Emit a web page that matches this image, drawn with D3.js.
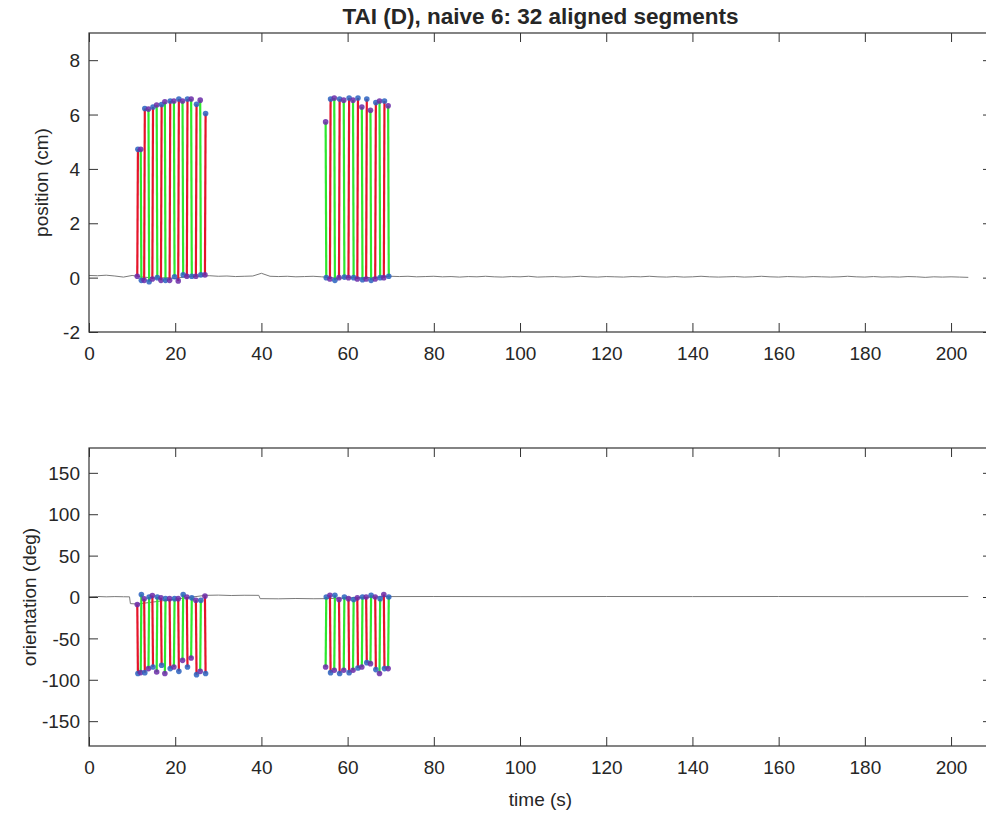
<!DOCTYPE html>
<html>
<head>
<meta charset="utf-8">
<script src="https://cdn.jsdelivr.net/npm/d3@7"></script>
<style>
  html, body { margin: 0; padding: 0; background: #fff; }
  svg { display: block; }
  text { font-family: "Liberation Sans", Arial, Helvetica, sans-serif; fill: #262626; }
</style>
</head>
<body>
<svg id="chart" width="986" height="817"></svg>
<script>
// ---------------- DATA ----------------
const titleText = "TAI (D), naive 6: 32 aligned segments";
const xTicks = [0, 20, 40, 60, 80, 100, 120, 140, 160, 180, 200];
const posTicks = [-2, 0, 2, 4, 6, 8];
const oriTicks = [-150, -100, -50, 0, 50, 100, 150];
const xLimit = [0, 209.5];
const posLimit = [-2, 9];
const oriLimit = [-180, 180];

// segment start times (s), kind: "out" (red) / "back" (green)
const segTimes = [11.2, 12.0, 12.8, 13.8, 14.7, 15.7, 16.7, 17.6, 18.7, 19.7, 20.7, 21.7, 22.7, 23.7, 24.8, 25.8, 26.9,
                  54.9, 55.9, 56.9, 58.0, 59.1, 60.2, 61.25, 62.25, 63.3, 64.3, 65.3, 66.4, 67.4, 68.4, 69.4];
const segDuration = 0.15;
const segKinds = ["out","back","out","back","out","back","out","back","out","back","out","back","out","back","out","back","out",
                  "back","out","back","out","back","out","back","out","back","out","back","out","back","out","back"];
const posStart = [0.05, 4.72, -0.1, 6.2, -0.05, 6.35, -0.1, 6.47, -0.1, 6.5, -0.12, 6.5, 0.05, 6.57, 0.05, 6.53, 0.1,
                  5.73, -0.05, 6.61, 0.0, 6.53, 0.0, 6.53, -0.05, 6.28, -0.05, 6.16, -0.05, 6.5, 0.0, 6.32];
const posEnd   = [4.72, -0.1, 6.22, -0.15, 6.28, 0.0, 6.37, -0.1, 6.5, 0.03, 6.57, 0.1, 6.57, 0.05, 6.38, 0.1, 6.04,
                  0.0, 6.57, -0.1, 6.57, 0.02, 6.61, 0.0, 6.61, -0.08, 6.57, -0.1, 6.44, 0.0, 6.5, 0.05];
const oriStart = [-9, -91.3, -2.2, -86.5, 1.8, -90.6, -1, -92.5, -2, -84.5, -2, -76.5, 0, -73.7, -4, -89.8, 1,
                  -84.5, 2, -88.5, -3, -88.5, -2, -88.5, -1, -84.5, 0, -80.5, 0, -92.5, 3, -86.5];
const oriEnd   = [-92.5, 3, -91.4, 0, -84.5, 0, -82.5, -2, -86.5, -2, -89.8, 3, -84.5, -1, -93.8, -4, -92.5,
                  0, -91.4, 2, -92.5, 0, -91.4, -3, -85.7, 0, -79.3, 2, -87.7, -2, -86.5, 0];

// raw traces (gray)
const posTraceT = [0,2,4,6,8,10,12,14,16,18,20,22,24,26,28,30,32,34,36,38,40,42,44,46,48,50,52,54,56,58,60,62,64,66,68,70,
  72,74,76,78,80,82,84,86,88,90,92,94,96,98,100,102,104,106,108,110,112,114,116,118,120,122,124,126,128,130,132,134,136,138,
  140,142,144,146,148,150,152,154,156,158,160,162,164,166,168,170,172,174,176,178,180,182,184,186,188,190,192,194,196,198,200,202,204];
const posTraceV = [0.08,0.07,0.09,0.06,0.02,0.08,0.03,0.0,-0.02,0.0,-0.03,0.02,0.04,0.06,0.07,0.05,0.06,0.04,0.05,0.06,0.16,
  0.05,0.04,0.05,0.03,0.04,0.05,0.03,0.0,-0.02,0.0,-0.01,0.0,0.01,0.02,0.05,0.04,0.05,0.03,0.04,0.05,0.03,0.04,0.02,0.04,0.03,
  0.05,0.03,0.02,0.04,0.03,0.05,0.02,0.03,0.04,0.02,0.03,0.05,0.03,0.02,0.04,0.03,0.02,0.04,0.03,0.05,0.03,0.02,0.04,0.02,0.03,
  0.05,0.03,0.02,0.03,0.04,0.02,0.03,0.05,0.03,0.02,0.04,0.03,0.02,0.04,0.03,0.02,0.03,0.05,0.03,0.02,0.04,0.02,0.03,0.02,0.04,
  0.03,0.01,0.03,0.02,0.03,0.02,0.01];
const oriTraceT = [0, 2, 4, 6, 8, 9.4, 9.6, 11.2, 27, 30, 33, 36, 39.4, 39.7, 44, 48, 52, 54.9, 69.4, 80, 100, 120, 140, 160, 180, 204];
const oriTraceV = [0.3, 0.6, 0.2, 0.5, 0.3, 0.2, -8, -8.5, 2, 2.3, 1.8, 2.1, 2, -2, -2.2, -1.8, -2.1, -2, 0.5, 0.6, 0.4, 0.6, 0.5, 0.6, 0.4, 0.6];

// ---------------- DRAW ----------------
const svg = d3.select("#chart");
svg.append("rect").attr("width", 986).attr("height", 817).attr("fill", "#fff");

const left = 89, right = 992;
const x = d3.scaleLinear().domain(xLimit).range([left, right]);
const colorOf = { out: "#e5142a", back: "#2ee82e" };
const axisColor = "#333";
const tickLen = 9;
const fontSize = 19;
const fmt = d => String(d);

function panel(yScale, yTicks, traceT, traceV, segStart, segEnd, ylabel, ylabelX) {
  const [y0, y1] = yScale.range(); // bottom, top
  const g = svg.append("g");
  const id = "clip" + Math.round(y1);
  svg.append("clipPath").attr("id", id).append("rect")
    .attr("x", left).attr("y", y1).attr("width", right - left).attr("height", y0 - y1);
  const plot = g.append("g").attr("clip-path", `url(#${id})`);

  // trace
  const line = d3.line().x((d, i) => x(traceT[i])).y((d, i) => yScale(traceV[i]));
  plot.append("path").datum(traceT).attr("d", line)
    .attr("fill", "none").attr("stroke", "#7a7a7a").attr("stroke-width", 1);

  // segments
  const segs = segTimes.map((t, i) => ({ t0: t, t1: t + segDuration, v0: segStart[i], v1: segEnd[i], kind: segKinds[i] }));
  plot.selectAll("line.seg").data(segs).join("line").attr("class", "seg")
    .attr("x1", d => x(d.t0)).attr("x2", d => x(d.t1))
    .attr("y1", d => yScale(d.v0)).attr("y2", d => yScale(d.v1))
    .attr("stroke", d => colorOf[d.kind]).attr("stroke-width", 2.2);
  const pts = [];
  segs.forEach(d => { pts.push({ t: d.t0, v: d.v0, s: 0 }); pts.push({ t: d.t1, v: d.v1, s: 1 }); });
  plot.selectAll("circle.pt").data(pts).join("circle").attr("class", "pt")
    .attr("cx", d => x(d.t)).attr("cy", d => yScale(d.v)).attr("r", 2.8)
    .attr("fill", d => d.s === 0 ? "#6a2aa8" : "#2a62c0").attr("fill-opacity", 0.85);

  // axes
  const axB = d3.axisBottom(x).tickValues(xTicks).tickSize(-tickLen).tickPadding(15).tickFormat(fmt);
  const axT = d3.axisTop(x).tickValues(xTicks).tickSize(-tickLen).tickFormat("");
  const axL = d3.axisLeft(yScale).tickValues(yTicks).tickSize(-tickLen).tickPadding(9).tickFormat(fmt);
  const axR = d3.axisRight(yScale).tickValues(yTicks).tickSize(-tickLen).tickFormat("");
  const gb = g.append("g").attr("transform", `translate(0,${y0})`).call(axB);
  const gt = g.append("g").attr("transform", `translate(0,${y1})`).call(axT);
  const gl = g.append("g").attr("transform", `translate(${left},0)`).call(axL);
  const gr = g.append("g").attr("transform", `translate(${right},0)`).call(axR);
  [gb, gt, gl, gr].forEach(a => {
    a.select(".domain").remove();
    a.selectAll(".tick line").attr("stroke", axisColor).attr("stroke-width", 1);
    a.selectAll("text").attr("font-size", fontSize).attr("fill", "#262626")
      .style("font-family", '"Liberation Sans", Arial, sans-serif');
  });
  gl.selectAll("text").attr("dy", "0.35em");
  // box
  g.append("rect").attr("x", left).attr("y", y1).attr("width", right - left).attr("height", y0 - y1)
    .attr("fill", "none").attr("stroke", axisColor).attr("stroke-width", 1.2);

  // y label
  g.append("text").attr("transform", `translate(${ylabelX},${(y0 + y1) / 2}) rotate(-90)`)
    .attr("text-anchor", "middle").attr("dominant-baseline", "central")
    .attr("font-size", fontSize).text(ylabel);
}

const yPos = d3.scaleLinear().domain(posLimit).range([332, 33]);
const yOri = d3.scaleLinear().domain(oriLimit).range([746, 448]);

panel(yPos, posTicks, posTraceT, posTraceV, posStart, posEnd, "position (cm)", 41);
panel(yOri, oriTicks, oriTraceT, oriTraceV, oriStart, oriEnd, "orientation (deg)", 29);

svg.append("text").attr("x", (left + right) / 2).attr("y", 24)
  .attr("text-anchor", "middle").attr("font-size", 22.5).attr("font-weight", "bold")
  .attr("fill", "#000").text(titleText);

svg.append("text").attr("x", (left + right) / 2).attr("y", 806)
  .attr("text-anchor", "middle").attr("font-size", fontSize).text("time (s)");
</script>
</body>
</html>
